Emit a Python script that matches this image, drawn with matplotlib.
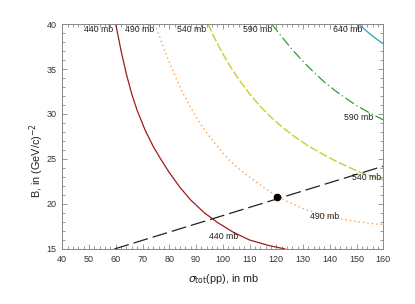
import matplotlib
matplotlib.use("Agg")
import matplotlib.pyplot as plt
from matplotlib.ticker import MultipleLocator

plt.rcParams['font.family'] = ['Liberation Sans', 'DejaVu Sans']

# Curves of constant sigma: sigma_tot(pp) in mb vs B in (GeV/c)^-2
x440 = [60, 62, 64, 66, 68, 71, 74, 77, 80, 84, 88, 93, 98, 104, 110, 117, 123.3]
b440 = [40, 37.0, 34.4, 32.2, 30.4, 28.2, 26.4, 24.9, 23.5, 21.85, 20.45, 19.05, 17.95, 16.85, 16.0, 15.4, 15.0]

x490 = [74.7, 76.5, 78.5, 80.5, 82.5, 85, 88, 91, 94.5, 98, 102, 106, 110, 115, 120, 125,
        130, 135, 140, 145, 150, 155, 160]
b490 = [40, 38.5, 36.9, 35.4, 34.0, 32.4, 30.7, 29.2, 27.7, 26.4, 25.0, 23.9, 23.0, 21.9,
        20.9, 20.15, 19.5, 19.0, 18.6, 18.3, 18.05, 17.85, 17.7]

x540 = [94.5, 97, 100, 103, 106, 110, 114, 118, 122, 127, 132, 137, 142, 147, 152, 156, 160]
b540 = [40, 38.4, 36.7, 35.2, 33.85, 32.25, 30.85, 29.65, 28.6, 27.45, 26.45, 25.6, 24.8,
        24.1, 23.45, 23.05, 22.7]

x590 = [118.3, 122, 126, 130, 134, 138, 142, 146, 150, 155, 160]
b590 = [40, 38.6, 37.15, 35.85, 34.65, 33.55, 32.6, 31.75, 30.95, 30.1, 29.35]

x640 = [150.8, 152.5, 155, 157.5, 160]
b640 = [40, 39.55, 38.9, 38.33, 37.8]

# dashed reference line
xline = [59.5, 160]
bline = [15.0, 24.2]

# measured point
xpt = [120.3]
bpt = [20.8]

# curve labels: text, x, B
labels = [
    ("440 mb", 53.5, 39.4), ("490 mb", 69.0, 39.4), ("540 mb", 88.5, 39.4),
    ("590 mb", 113.2, 39.4), ("640 mb", 146.6, 39.4),
    ("590 mb", 150.7, 29.6), ("540 mb", 153.8, 22.9),
    ("490 mb", 137.9, 18.6), ("440 mb", 100.4, 16.4),
]

fig = plt.figure(figsize=(4.15, 3.04), dpi=100)
ax = fig.add_axes([0.150, 0.181, 0.7735, 0.740])

ax.plot(x440, b440, color='#9e1b1b', lw=0.9)
ax.plot(x490, b490, color='#ff9f45', lw=1.0, linestyle=(0, (1, 2.2)))
ax.plot(x540, b540, color='#cccc30', lw=1.0, linestyle=(0, (6, 1.8)))
ax.plot(x590, b590, color='#2e9e2e', lw=0.9, linestyle=(0, (8, 2.5, 1, 2.5)))
ax.plot(x640, b640, color='#2aa6b0', lw=0.9)
ax.plot(xline, bline, color='#222222', lw=0.9, linestyle=(0, (12, 4)))
ax.plot(xpt, bpt, 'o', color='black', ms=4.5)

for t, x, y in labels:
    ax.text(x, y, t, ha='center', va='center', fontsize=6.3, color='#222222')

ax.set_xlim(40, 160)
ax.set_ylim(15, 40)
ax.xaxis.set_major_locator(MultipleLocator(10))
ax.xaxis.set_minor_locator(MultipleLocator(2))
ax.yaxis.set_major_locator(MultipleLocator(5))
ax.yaxis.set_minor_locator(MultipleLocator(1))
ax.tick_params(which='both', direction='in', top=True, right=True, color='#888888',
               labelsize=6.5, labelcolor='#333333', width=0.6)
ax.tick_params(which='major', length=3.5, pad=4)
ax.tick_params(which='minor', length=2)
for s in ax.spines.values():
    s.set_color('#888888')
    s.set_linewidth(0.7)

ax.set_xlabel(r'$\sigma_{\mathrm{tot}}$(pp), in mb', fontsize=7.8, color='#222222')
ax.set_ylabel(r'B, in (GeV/c)$^{-2}$', fontsize=7.8, color='#222222')
ax.xaxis.set_label_coords(0.504, -0.133)
ax.yaxis.set_label_coords(-0.08, 0.391)
ax.xaxis.label.set_va('center')
ax.yaxis.label.set_va('center')

fig.savefig('out.png', dpi=100)
